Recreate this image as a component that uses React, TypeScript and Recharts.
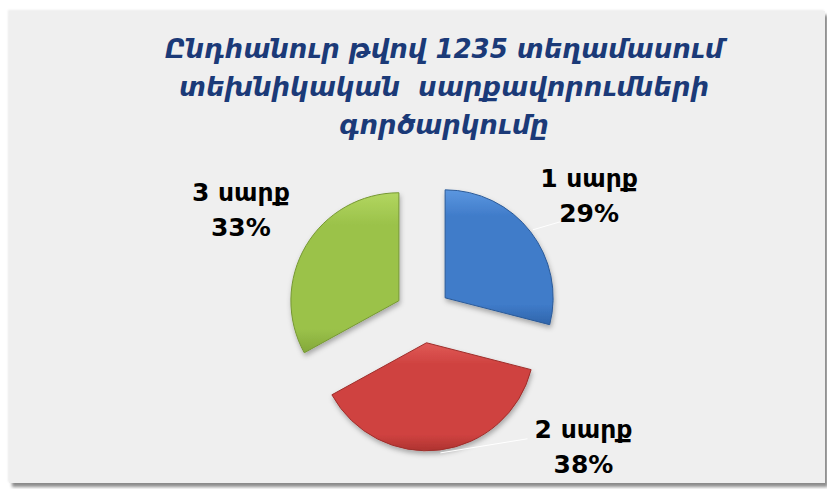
import React from 'react';
import { PieChart, Pie, Cell } from 'recharts';

// ---- data ----
const categories: string[] = ['1 սարք', '2 սարք', '3 սարք'];
const shares: number[] = [29, 38, 33];
const titleLines: string[] = [
  'Ընդհանուր թվով 1235 տեղամասում',
  'տեխնիկական  սարքավորումների',
  'գործարկումը',
];

const data = categories.map((name, i) => ({ name, value: shares[i] }));
const total = shares.reduce((a, b) => a + b, 0);

// ---- layout / style ----
const W = 827;
const H = 489;
const CX = 418;
const CY = 310;
const R = 108;
const EXPLODE = 28;
const GRADS = [
  { id: 'gBlue', top: '#5C97E0', mid: '#3F7BC9', bot: '#2F65AB', edge: '#2B5A98' },
  { id: 'gRed', top: '#E05A57', mid: '#CF4240', bot: '#AE3330', edge: '#9E2E2B' },
  { id: 'gGreen', top: '#B2D660', mid: '#9BC24A', bot: '#83A83A', edge: '#769833' },
];
const LABEL_SHIFT = [
  { dx: 144, dy: -111 },
  { dx: 157, dy: 95 },
  { dx: -158, dy: -100 },
];
// end of the faint leader line, relative to label anchor (null = no line)
const LEADER_END: ({ dx: number; dy: number } | null)[] = [
  { dx: -29, dy: 35 },
  { dx: -56, dy: 1 },
  null,
];
const LABEL_FONT = "'DejaVu Sans', sans-serif";

function midAngleOf(i: number): number {
  let cum = 0;
  for (let k = 0; k < i; k++) cum += shares[k];
  return 90 - (360 * (cum + shares[i] / 2)) / total;
}

const makeLabel = (j: number) => (props: any) => {
  if (props.index !== j) return null;
  const s = LABEL_SHIFT[j];
  const x = props.cx + s.dx;
  const y = props.cy + s.dy;
  const a = (props.midAngle * Math.PI) / 180;
  const sx = props.cx + (props.outerRadius + 3) * Math.cos(a);
  const sy = props.cy - (props.outerRadius + 3) * Math.sin(a);
  const le = LEADER_END[j];
  return (
    <g>
      {le && (
        <line
          x1={sx}
          y1={sy}
          x2={x + le.dx}
          y2={y + le.dy}
          stroke="#ffffff"
          strokeWidth={1}
        />
      )}
      <text
        x={x}
        y={y}
        textAnchor="middle"
        fontFamily={LABEL_FONT}
        fontWeight="bold"
        fontSize={25}
        fill="#000"
      >
        <tspan x={x} y={y}>{props.name}</tspan>
        <tspan x={x} y={y + 35}>{`${Math.round(props.percent * 100)}%`}</tspan>
      </text>
    </g>
  );
};

export default function App() {
  return (
    <div style={{ position: 'absolute', left: 0, top: 0, width: W, height: H, background: '#fff' }}>
      <div
        style={{
          position: 'absolute',
          left: 9,
          top: 11,
          width: 816,
          height: 472,
          background: '#efefef',
          boxShadow: '3px 4px 3px rgba(0,0,0,0.45), -1px -1px 2px rgba(0,0,0,0.08)',
        }}
      />
      <div style={{ position: 'absolute', left: 0, top: 0 }}>
        <PieChart width={W} height={H}>
          <defs>
            {GRADS.map((g) => (
              <linearGradient key={g.id} id={g.id} x1="0" y1="0" x2="0" y2="1">
                <stop offset="0%" stopColor={g.top} />
                <stop offset="20%" stopColor={g.mid} />
                <stop offset="85%" stopColor={g.mid} />
                <stop offset="100%" stopColor={g.bot} />
              </linearGradient>
            ))}
            <filter id="sliceShadow" x="-20%" y="-20%" width="140%" height="140%">
              <feDropShadow dx="1" dy="3" stdDeviation="2.5" floodColor="#000" floodOpacity="0.3" />
            </filter>
          </defs>
          <text
            x={444}
            textAnchor="middle"
            fontFamily="'DejaVu Sans', sans-serif"
            fontWeight="bold"
            fontStyle="italic"
            fontSize={26}
            fill="#1B3A78"
            style={{ whiteSpace: 'pre' }}
          >
            {titleLines.map((t, i) => (
              <tspan key={i} x={444} y={58 + i * 38}>
                {t}
              </tspan>
            ))}
          </text>
          {data.map((_, j) => {
            const a = (midAngleOf(j) * Math.PI) / 180;
            const cx = CX + EXPLODE * Math.cos(a);
            const cy = CY - EXPLODE * Math.sin(a);
            return (
              <Pie
                key={j}
                data={data}
                dataKey="value"
                nameKey="name"
                cx={cx}
                cy={cy}
                outerRadius={R}
                startAngle={90}
                endAngle={-270}
                isAnimationActive={false}
                label={makeLabel(j)}
                labelLine={false}
                style={{ filter: 'url(#sliceShadow)' }}
              >
                {data.map((__, i) => (
                  <Cell
                    key={i}
                    fill={i === j ? `url(#${GRADS[i].id})` : 'none'}
                    stroke={i === j ? GRADS[i].edge : 'none'}
                    strokeWidth={1}
                  />
                ))}
              </Pie>
            );
          })}
        </PieChart>
      </div>
    </div>
  );
}
